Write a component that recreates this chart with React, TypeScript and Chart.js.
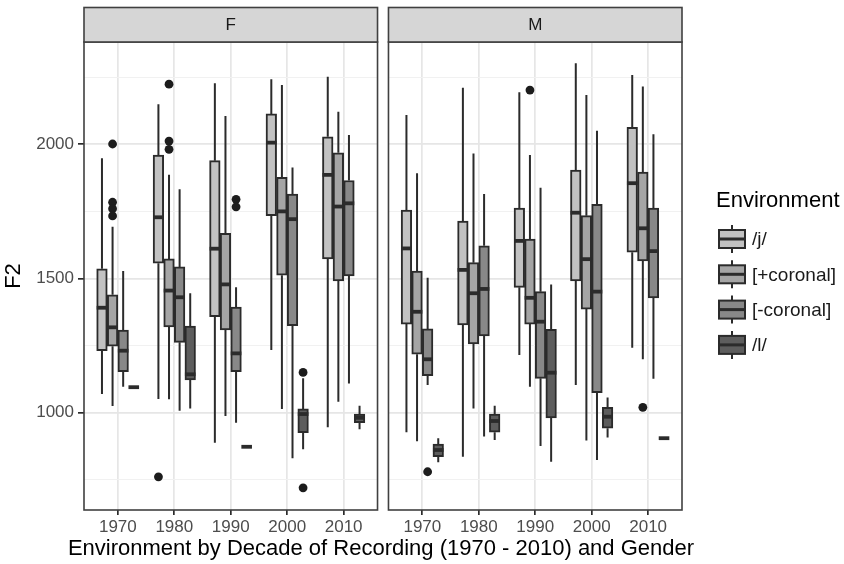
import React, { useEffect, useRef } from 'react';
import { Chart, registerables } from 'chart.js';

Chart.register(...registerables);

const FONT = "'Liberation Sans', Arial, Helvetica, sans-serif";

const GENDERS = ['F', 'M'];
const DECADES = ['1970', '1980', '1990', '2000', '2010'];
const ENVIRONMENTS = ['/j/', '[+coronal]', '[-coronal]', '/l/'];
const FILLS = ['#c2c2c2', '#a5a5a5', '#888888', '#5d5d5d'];
const X_TITLE = 'Environment by Decade of Recording (1970 - 2010) and Gender';
const Y_TITLE = 'F2';
const LEGEND_TITLE = 'Environment';

// [lower whisker, Q1, median, Q3, upper whisker]; rows: F 1970..2010, then M 1970..2010
const J_STATS = [
  [1070, 1231, 1391, 1536, 1948],
  [1051, 1557, 1728, 1960, 2149],
  [888, 1358, 1611, 1939, 2227],
  [1234, 1734, 2006, 2113, 2242],
  [946, 1573, 1886, 2028, 2252],
  [927, 1330, 1612, 1755, 2109],
  [836, 1327, 1532, 1714, 2211],
  [1215, 1467, 1640, 1762, 2194],
  [1103, 1491, 1745, 1904, 2302],
  [1242, 1598, 1855, 2063, 2258],
];
const PLUS_CORONAL_STATS = [
  [1025, 1248, 1318, 1439, 1693],
  [1050, 1320, 1455, 1573, 1886],
  [988, 1308, 1478, 1668, 2105],
  [1014, 1512, 1750, 1877, 2221],
  [1041, 1491, 1768, 1968, 2121],
  [894, 1218, 1376, 1528, 1892],
  [1016, 1256, 1445, 1559, 1966],
  [1097, 1330, 1428, 1647, 1960],
  [896, 1386, 1572, 1734, 2184],
  [1199, 1565, 1687, 1896, 2215],
];
const MINUS_CORONAL_STATS = [
  [1097, 1153, 1231, 1308, 1528],
  [1007, 1262, 1430, 1543, 1832],
  [963, 1153, 1221, 1393, 1467],
  [830, 1324, 1721, 1814, 1913],
  [1109, 1510, 1780, 1865, 2035],
  [1103, 1138, 1199, 1312, 1503],
  [911, 1286, 1461, 1622, 1815],
  [876, 1128, 1339, 1451, 1838],
  [824, 1075, 1451, 1776, 2050],
  [1126, 1428, 1602, 1762, 2037],
];
const L_STATS = [
  [1095, 1095, 1095, 1095, 1095],
  [1016, 1122, 1143, 1323, 1445],
  [873, 873, 873, 873, 873],
  [864, 926, 995, 1014, 1128],
  [938, 963, 981, 995, 1026],
  [815, 836, 861, 883, 905],
  [898, 927, 969, 995, 1026],
  [817, 981, 1149, 1311, 1478],
  [908, 942, 985, 1020, 1057],
  [905, 905, 905, 905, 905],
];

// outliers: [gender index, decade index, F2 value]
const J_OUTLIERS = [[0, 1, 761]];
const PLUS_CORONAL_OUTLIERS = [
  [0, 0, 2001], [0, 0, 1784], [0, 0, 1760], [0, 0, 1733],
  [0, 1, 2224], [0, 1, 2012], [0, 1, 1981],
  [1, 2, 2202], [1, 4, 1020],
];
const MINUS_CORONAL_OUTLIERS = [[0, 2, 1795], [0, 2, 1767], [1, 0, 780]];
const L_OUTLIERS = [[0, 3, 1150], [0, 3, 720]];

const Y_TICKS = [750, 1000, 1250, 1500, 1750, 2000, 2250];
const Y_LABELED = [1000, 1500, 2000];

const STATS = [J_STATS, PLUS_CORONAL_STATS, MINUS_CORONAL_STATS, L_STATS];
const OUTLIERS = [J_OUTLIERS, PLUS_CORONAL_OUTLIERS, MINUS_CORONAL_OUTLIERS, L_OUTLIERS];

// layout constants (in category units)
const EXPAND = 0.6;
const PANEL_SPAN = 5.2;
const PANEL_GAP = 0.194;
const DODGE = 0.1875;
const slot = (g: number, d: number) => g * (PANEL_SPAN + PANEL_GAP) + d;
const panelRange = (g: number) => [slot(g, 0) - EXPAND, slot(g, 0) - EXPAND + PANEL_SPAN];

const INK = '#2b2b2b';

const boxPlugin = {
  id: 'boxParts',
  beforeDatasetsDraw(chart: any) {
    const { ctx, chartArea: a, scales } = chart;
    const x = scales.x;
    const y = scales.y;
    ctx.save();
    const gx0 = x.getPixelForValue(panelRange(0)[1]);
    const gx1 = x.getPixelForValue(panelRange(1)[0]);
    ctx.fillStyle = '#ffffff';
    ctx.fillRect(gx0, a.top - 1, gx1 - gx0, a.bottom - a.top + 2);
    ctx.strokeStyle = INK;
    ctx.lineWidth = 2;
    STATS.forEach((rows, k) => {
      const meta = chart.getDatasetMeta(k);
      meta.data.forEach((el: any, j: number) => {
        const [lo, q1, , q3, hi] = rows[j];
        ctx.beginPath();
        ctx.moveTo(el.x, y.getPixelForValue(lo));
        ctx.lineTo(el.x, y.getPixelForValue(q1));
        ctx.moveTo(el.x, y.getPixelForValue(q3));
        ctx.lineTo(el.x, y.getPixelForValue(hi));
        ctx.stroke();
      });
    });
    ctx.restore();
  },
  afterDatasetsDraw(chart: any) {
    const { ctx, chartArea: a, scales } = chart;
    const x = scales.x;
    const y = scales.y;
    ctx.save();
    // medians
    ctx.strokeStyle = INK;
    ctx.lineWidth = 3.8;
    STATS.forEach((rows, k) => {
      const meta = chart.getDatasetMeta(k);
      meta.data.forEach((el: any, j: number) => {
        const py = y.getPixelForValue(rows[j][2]);
        ctx.beginPath();
        ctx.moveTo(el.x - el.width / 2, py);
        ctx.lineTo(el.x + el.width / 2, py);
        ctx.stroke();
      });
    });
    // panel borders + strips
    GENDERS.forEach((g, gi) => {
      const [v0, v1] = panelRange(gi);
      const x0 = x.getPixelForValue(v0);
      const x1 = x.getPixelForValue(v1);
      ctx.lineWidth = 1.6;
      ctx.strokeStyle = '#404040';
      ctx.strokeRect(x0, a.top, x1 - x0, a.bottom - a.top);
      ctx.fillStyle = '#d6d6d6';
      ctx.fillRect(x0, 7.5, x1 - x0, a.top - 7.5);
      ctx.strokeRect(x0, 7.5, x1 - x0, a.top - 7.5);
      ctx.fillStyle = '#1a1a1a';
      ctx.font = `17px ${FONT}`;
      ctx.textAlign = 'center';
      ctx.textBaseline = 'middle';
      ctx.fillText(g, (x0 + x1) / 2, (7.5 + a.top) / 2 + 1);
    });
    ctx.restore();
  },
  afterDraw(chart: any) {
    const { ctx, chartArea: a } = chart;
    ctx.save();
    // x axis title (drawn without width squeezing)
    ctx.fillStyle = '#000000';
    ctx.font = `22px ${FONT}`;
    ctx.textAlign = 'center';
    ctx.textBaseline = 'middle';
    ctx.fillText(X_TITLE, (a.left + a.right) / 2 - 2, 549);
    // legend
    ctx.textAlign = 'left';
    ctx.fillText(LEGEND_TITLE, 716, 201);
    ENVIRONMENTS.forEach((name, k) => {
      const cy = 239 + k * 35.3;
      const cx = 732;
      ctx.strokeStyle = INK;
      ctx.lineWidth = 2;
      ctx.beginPath();
      ctx.moveTo(cx, cy - 14);
      ctx.lineTo(cx, cy + 14);
      ctx.stroke();
      ctx.fillStyle = FILLS[k];
      ctx.fillRect(cx - 13, cy - 9, 26, 18);
      ctx.strokeRect(cx - 13, cy - 9, 26, 18);
      ctx.lineWidth = 3;
      ctx.beginPath();
      ctx.moveTo(cx - 13, cy);
      ctx.lineTo(cx + 13, cy);
      ctx.stroke();
      ctx.fillStyle = '#1a1a1a';
      ctx.font = `19px ${FONT}`;
      ctx.fillText(name, 752, cy + 1);
    });
    ctx.restore();
  },
};

export default function App() {
  const ref = useRef<HTMLCanvasElement | null>(null);

  useEffect(() => {
    if (!ref.current) return;
    const barSets = ENVIRONMENTS.map((name, k) => ({
      type: 'bar' as const,
      label: name,
      data: STATS[k].map((s, j) => ({ x: slot(Math.floor(j / 5), j % 5), y: [s[1], s[3]] })),
      backgroundColor: FILLS[k],
      borderColor: INK,
      borderWidth: 2,
      borderSkipped: false,
      barThickness: 10.6,
      grouped: true,
    }));
    const pointSets = OUTLIERS.map((list, k) => ({
      type: 'scatter' as const,
      label: ENVIRONMENTS[k] + ' outliers',
      data: list.map(([g, d, v]) => ({ x: slot(g, d) + (k - 1.5) * DODGE, y: v })),
      pointRadius: 4.4,
      pointBackgroundColor: '#1c1c1c',
      pointBorderWidth: 0,
      showLine: false,
    }));

    const chart = new Chart(ref.current, {
      type: 'bar',
      data: { datasets: [...barSets, ...pointSets] as any },
      options: {
        animation: false,
        responsive: false,
        devicePixelRatio: 1,
        events: [],
        layout: { padding: { top: 42, right: 162, left: 0, bottom: 0 } },
        plugins: { legend: { display: false }, tooltip: { enabled: false }, title: { display: false } },
        scales: {
          x: {
            type: 'linear',
            min: panelRange(0)[0],
            max: panelRange(1)[1],
            offset: false,
            afterBuildTicks: (s: any) => {
              s.ticks = GENDERS.flatMap((_, gi) => DECADES.map((__, di) => ({ value: slot(gi, di) })));
            },
            afterFit: (s: any) => { s.height = 54; },
            grid: { offset: false, color: '#e6e6e6', lineWidth: 1.7, tickColor: INK, tickLength: 5, drawTicks: true },
            border: { display: false },
            ticks: {
              autoSkip: false,
              maxRotation: 0,
              minRotation: 0,
              padding: 2,
              color: '#4d4d4d',
              font: { family: FONT, size: 17 },
              callback: (_v: any, i: number) => DECADES[i % DECADES.length],
            },
            title: { display: false },
          },
          y: {
            type: 'linear',
            min: 637.5,
            max: 2381,
            afterBuildTicks: (s: any) => { s.ticks = Y_TICKS.map((v) => ({ value: v })); },
            afterFit: (s: any) => { s.width = 84; },
            grid: {
              color: (c: any) => (Y_LABELED.includes(c.tick?.value) ? '#e6e6e6' : '#f1f1f1'),
              lineWidth: (c: any) => (Y_LABELED.includes(c.tick?.value) ? 1.7 : 1),
              tickColor: (c: any) => (Y_LABELED.includes(c.tick?.value) ? INK : 'rgba(0,0,0,0)'),
              tickLength: 6,
              drawTicks: true,
            },
            border: { display: false },
            ticks: {
              autoSkip: false,
              padding: 4,
              color: '#4d4d4d',
              font: { family: FONT, size: 17 },
              callback: (v: any) => (Y_LABELED.includes(v) ? String(v) : ''),
            },
            title: {
              display: true,
              text: Y_TITLE,
              color: '#000000',
              font: { family: FONT, size: 22 },
              padding: { top: 1, bottom: 0 },
            },
          },
        },
      },
      plugins: [boxPlugin],
    } as any);
    return () => chart.destroy();
  }, []);

  return (
    <div style={{ position: 'fixed', left: 0, top: 0, width: 844, height: 564, background: '#ffffff' }}>
      <canvas ref={ref} width={844} height={564} style={{ display: 'block', width: 844, height: 564 }} />
    </div>
  );
}
